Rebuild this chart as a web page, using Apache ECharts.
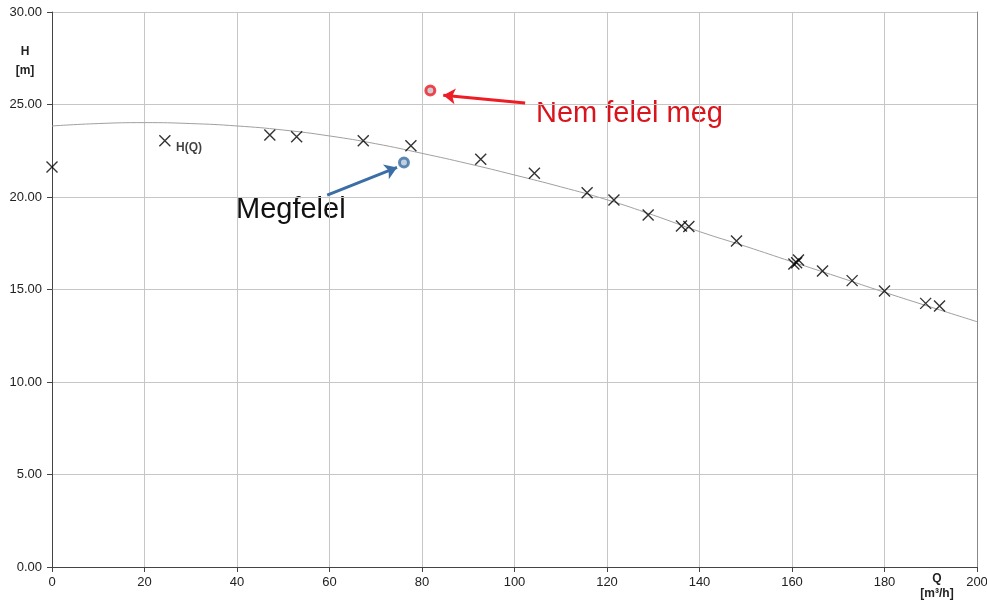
<!DOCTYPE html>
<html>
<head>
<meta charset="utf-8">
<script src="https://cdn.jsdelivr.net/npm/echarts@6/dist/echarts.min.js"></script>
<style>html,body{margin:0;padding:0;background:#fff}#c{width:987px;height:605px}</style>
</head>
<body>
<div id="c"></div>
<script>
// Fitted H(Q) curve
const curveQ = [0, 10, 20, 30, 40, 50, 60, 70, 80, 90, 100, 110, 120, 130, 140, 150, 160, 170, 180, 190, 200];
const curveH = [23.84, 23.97, 24.02, 23.97, 23.84, 23.62, 23.3, 22.88, 22.36, 21.8, 21.19, 20.55, 19.85, 19.02, 18.13, 17.33, 16.5, 15.68, 14.85, 14.05, 13.26];
// Measured points (x markers)
const measQ = [0, 24.4, 47.1, 52.9, 67.3, 77.6, 92.7, 104.3, 115.7, 121.5, 128.9, 136.1, 137.7, 148.0, 160.4, 161.0, 161.4, 166.6, 173.0, 180.0, 188.9, 191.9];
const measH = [21.62, 23.04, 23.35, 23.26, 23.04, 22.77, 22.04, 21.28, 20.23, 19.84, 19.03, 18.43, 18.4, 17.62, 16.38, 16.45, 16.59, 16.0, 15.48, 14.92, 14.25, 14.11];
// Operating points
const okPoint = [76.1, 21.86];
const notOkPoint = [81.8, 25.76];
// Arrows (from, to)
const okArrow = [[59.5, 20.1], [74.6, 21.6]];
const notOkArrow = [[102.3, 25.08], [84.6, 25.5]];
// Tick settings
const xTicks = {min: 0, max: 200, interval: 20};
const yTicks = {min: 0, max: 30, interval: 5};
const seriesName = 'H(Q)';
const labelOk = 'Megfelel';
const labelNotOk = 'Nem felel meg';

const FONT = 'Liberation Sans, Arial, sans-serif';
const chart = echarts.init(document.getElementById('c'), null, {renderer: 'canvas'});

const measData = measQ.map((q, i) => {
  const d = {value: [q, measH[i]]};
  if (i === 1) {
    d.label = {show: true, formatter: seriesName, position: 'right', offset: [0, 7],
      fontFamily: FONT, fontWeight: 'bold', fontSize: 12, color: '#111'};
  }
  return d;
});

chart.setOption({
  animation: false,
  backgroundColor: '#fff',
  grid: {left: 52, right: 10, top: 12, bottom: 38, containLabel: false, outerBoundsMode: 'none'},
  xAxis: {
    type: 'value', min: xTicks.min, max: xTicks.max, interval: xTicks.interval,
    axisLine: {show: true, lineStyle: {color: '#444', width: 1}},
    axisTick: {show: true, length: 5, lineStyle: {color: '#444'}},
    splitLine: {show: true, lineStyle: {color: '#c6c6c6', width: 1}},
    axisLabel: {fontFamily: FONT, fontSize: 13, color: '#222', margin: 9, showMaxLabel: true}
  },
  yAxis: [{
    type: 'value', min: yTicks.min, max: yTicks.max, interval: yTicks.interval,
    axisLine: {show: true, lineStyle: {color: '#444', width: 1}},
    axisTick: {show: true, length: 5, lineStyle: {color: '#444'}},
    splitLine: {show: true, lineStyle: {color: '#c6c6c6', width: 1}},
    axisLabel: {fontFamily: FONT, fontSize: 13, color: '#222', margin: 10,
      formatter: v => v.toFixed(2)}
  }, {
    type: 'value', position: 'right', min: yTicks.min, max: yTicks.max,
    axisLine: {show: true, lineStyle: {color: '#888', width: 1}},
    axisTick: {show: false}, axisLabel: {show: false}, splitLine: {show: false}
  }],
  series: [
    {
      type: 'line', name: 'curve', smooth: true, showSymbol: false, silent: true, z: 1,
      data: curveQ.map((q, i) => [q, curveH[i]]),
      lineStyle: {color: '#a0a0a0', width: 1}
    },
    {
      type: 'scatter', name: seriesName, z: 3,
      symbol: 'path://M0,0L10,10M10,0L0,10', symbolSize: 11,
      itemStyle: {color: 'rgba(0,0,0,0)', borderColor: '#000', borderWidth: 1.4},
      data: measData
    },
    {
      type: 'scatter', name: 'ok', z: 4,
      symbol: 'circle', symbolSize: 9,
      itemStyle: {color: '#b0c4d8', borderColor: '#3a6ea5', borderWidth: 3},
      data: [okPoint],
      markLine: {
        silent: true, animation: false,
        symbol: ['none', 'arrow'], symbolSize: 12,
        label: {show: false},
        lineStyle: {color: '#3a6ea5', width: 3, type: 'solid'},
        data: [[{coord: okArrow[0]}, {coord: okArrow[1]}]]
      }
    },
    {
      type: 'scatter', name: 'notok', z: 4,
      symbol: 'circle', symbolSize: 9,
      itemStyle: {color: '#c0c0c8', borderColor: '#ee1c25', borderWidth: 3},
      data: [notOkPoint],
      markLine: {
        silent: true, animation: false,
        symbol: ['none', 'arrow'], symbolSize: 12,
        label: {show: false},
        lineStyle: {color: '#ee1c25', width: 3, type: 'solid'},
        data: [[{coord: notOkArrow[0]}, {coord: notOkArrow[1]}]]
      }
    }
  ],
  graphic: [
    {type: 'text', x: 25, y: 42, style: {text: 'H\n[m]', fontFamily: FONT, fontWeight: 'bold', fontSize: 12, lineHeight: 19, fill: '#222', align: 'center'}},
    {type: 'text', x: 937, y: 571, style: {text: 'Q\n[m³/h]', fontFamily: FONT, fontWeight: 'bold', fontSize: 12, lineHeight: 15, fill: '#222', align: 'center'}},
    {type: 'text', x: 536, y: 99, style: {text: labelNotOk, fontFamily: FONT, fontSize: 29, fill: '#d9141c'}},
    {type: 'text', x: 236, y: 195, style: {text: labelOk, fontFamily: FONT, fontSize: 29, fill: '#111'}}
  ]
});
</script>
</body>
</html>
